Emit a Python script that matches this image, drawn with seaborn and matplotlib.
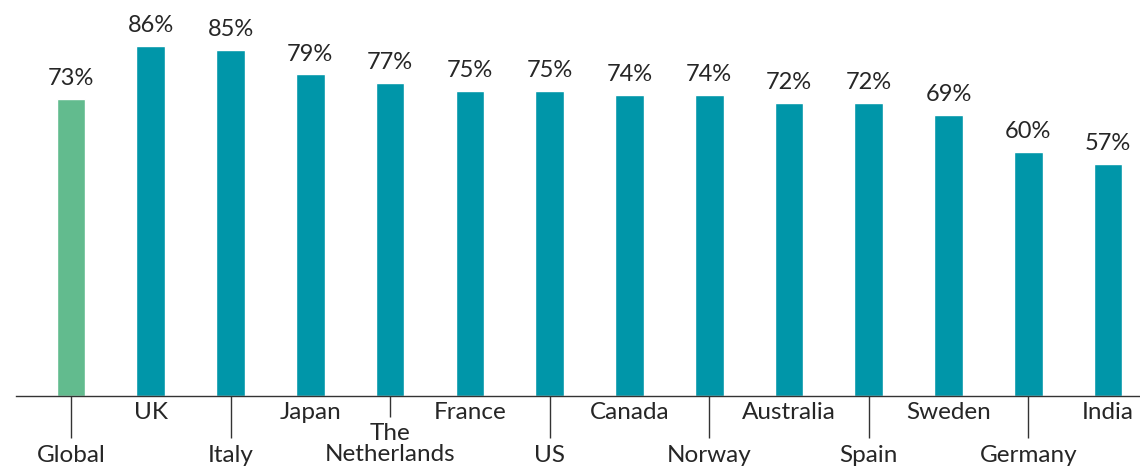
import matplotlib
matplotlib.use("Agg")
import matplotlib.pyplot as plt
import seaborn as sns
import pandas as pd

categories = ["Global", "UK", "Italy", "Japan", "The\nNetherlands", "France", "US",
              "Canada", "Norway", "Australia", "Spain", "Sweden", "Germany", "India"]
values = [73, 86, 85, 79, 77, 75, 75, 74, 74, 72, 72, 69, 60, 57]

GREEN = "#62BB8E"
TEAL = "#0096A9"
colors = [GREEN] + [TEAL] * (len(categories) - 1)

sns.set_theme(style="white")
plt.rcParams["font.family"] = ["Lato", "DejaVu Sans"]

df = pd.DataFrame({"country": categories, "value": values})

fig = plt.figure(figsize=(11.4, 4.68), dpi=100)
ax = fig.add_axes([16 / 1140, 72 / 468, 1 - 16 / 1140, 396 / 468])

sns.barplot(data=df, x="country", y="value", hue="country", palette=colors,
            width=0.36, legend=False, ax=ax, saturation=1)

for cont in ax.containers:
    ax.bar_label(cont, labels=[f"{v:.0f}%" for v in cont.datavalues],
                 padding=7, fontsize=17, color="#262626")

ax.set_ylim(0, 97.3)
ax.set_xlim(-0.69, 13.4)
ax.set_xlabel("")
ax.set_ylabel("")
ax.set_yticks([])

for s in ["top", "right", "left"]:
    ax.spines[s].set_visible(False)
ax.spines["bottom"].set_color("#333333")
ax.spines["bottom"].set_linewidth(1.0)

ax.set_xticks(range(len(categories)))
ax.set_xticklabels(categories, fontsize=17.5, color="#262626", linespacing=1.0)
ax.tick_params(axis="x", bottom=True, color="#333333", width=1.0, direction="out")

for i, tick in enumerate(ax.xaxis.get_major_ticks()):
    if i % 2 == 1:
        tick._apply_params(size=0, pad=4.5)
    elif "\n" in categories[i]:
        tick._apply_params(size=15, pad=4.5)
    else:
        tick._apply_params(size=30, pad=5)

fig.savefig("out.png", dpi=100)
